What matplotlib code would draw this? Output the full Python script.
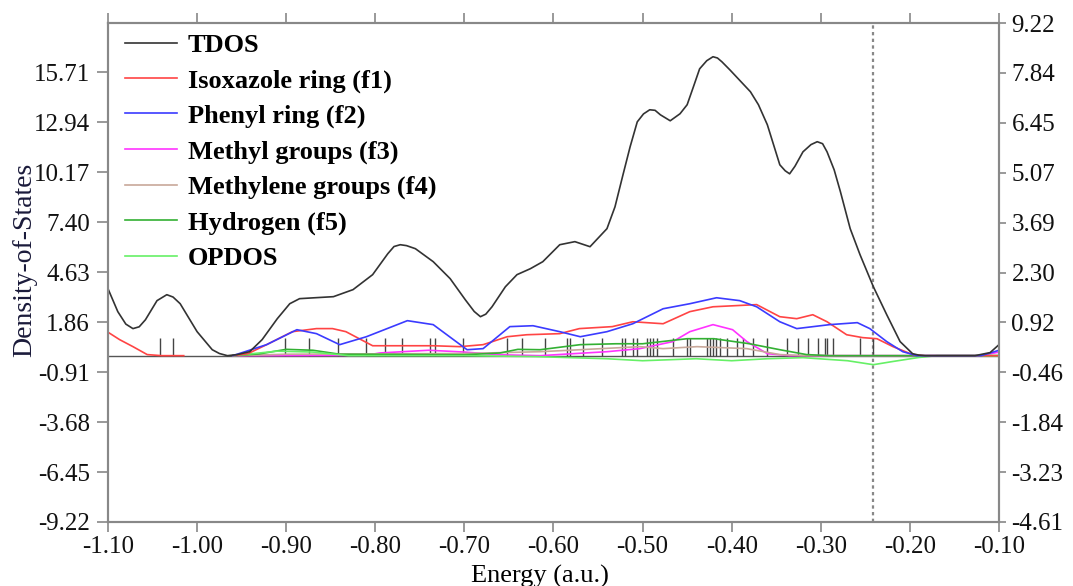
import numpy as np
import matplotlib.pyplot as plt

nan = np.nan

# total density of states
tdos_x = [-1.100, -1.089, -1.080, -1.072, -1.065, -1.058, -1.045, -1.034, -1.027, -1.019,
          -1.000, -0.983, -0.975, -0.966, -0.955, -0.941, -0.927, -0.910, -0.896, -0.885,
          -0.868, -0.847, -0.825, -0.803, -0.786, -0.779, -0.772, -0.765, -0.755, -0.735,
          -0.716, -0.699, -0.689, -0.682, -0.676, -0.669, -0.654, -0.641, -0.626, -0.612,
          -0.593, -0.576, -0.559, -0.540, -0.531, -0.522, -0.514, -0.506, -0.499, -0.492,
          -0.486, -0.480, -0.469, -0.458, -0.450, -0.443, -0.436, -0.428, -0.421, -0.416,
          -0.411, -0.402, -0.379, -0.370, -0.360, -0.346, -0.340, -0.335, -0.329, -0.320,
          -0.311, -0.304, -0.298, -0.293, -0.285, -0.278, -0.267, -0.256, -0.241, -0.226,
          -0.211, -0.197, -0.190, -0.183, -0.127, -0.110, -0.100]
tdos_y = [3.71, 2.44, 1.75, 1.50, 1.60, 1.99, 3.05, 3.38, 3.25, 2.88,
          1.33, 0.33, 0.12, 0.00, 0.06, 0.22, 0.89, 2.05, 2.88, 3.16,
          3.21, 3.27, 3.66, 4.49, 5.65, 6.05, 6.15, 6.10, 5.93, 5.21,
          4.27, 3.10, 2.45, 2.16, 2.30, 2.71, 3.82, 4.49, 4.82, 5.21,
          6.15, 6.32, 6.04, 7.04, 8.25, 10.03, 11.58, 12.96, 13.40, 13.63,
          13.60, 13.35, 13.02, 13.41, 13.91, 14.90, 15.90, 16.35, 16.57, 16.50,
          16.29, 15.84, 14.63, 13.91, 12.80, 10.58, 10.25, 10.08, 10.50, 11.30,
          11.70, 11.86, 11.75, 11.30, 10.30, 9.09, 7.04, 5.60, 3.82, 2.27,
          0.78, 0.11, 0.03, 0.00, 0.00, 0.17, 0.61]

# Isoxazole ring (f1)
f1_x = [-1.100, -1.087, -1.072, -1.056, -1.040, -1.015, nan,
        -0.960, -0.943, -0.922, -0.893, -0.866, -0.848, -0.833, -0.818, -0.803, -0.772,
        -0.735, -0.705, -0.679, -0.652, -0.630, -0.593, -0.571, -0.534, -0.511, -0.477,
        -0.447, -0.421, -0.372, -0.346, -0.327, -0.309, -0.293, -0.271, -0.253, -0.237,
        -0.219, -0.197, -0.183, -0.100]
f1_y = [1.30, 0.89, 0.50, 0.06, 0.00, 0.00, nan,
        0.00, 0.11, 0.61, 1.33, 1.50, 1.50, 1.33, 0.94, 0.55, 0.55,
        0.55, 0.50, 0.61, 1.05, 1.16, 1.22, 1.50, 1.61, 1.88, 1.77,
        2.44, 2.71, 2.83, 2.16, 2.05, 2.27, 1.88, 1.16, 1.00, 0.94,
        0.50, 0.06, 0.00, 0.00]

# Phenyl ring (f2)
f2_x = [-0.960, -0.922, -0.888, -0.866, -0.840, -0.810, -0.764, -0.735, -0.697, -0.679,
        -0.649, -0.623, -0.593, -0.570, -0.540, -0.511, -0.477, -0.447, -0.417, -0.391,
        -0.372, -0.346, -0.327, -0.290, -0.259, -0.245, -0.226, -0.208, -0.192, -0.120,
        -0.100]
f2_y = [0.00, 0.61, 1.44, 1.22, 0.61, 1.05, 1.94, 1.72, 0.33, 0.39,
        1.61, 1.66, 1.33, 1.05, 1.33, 1.77, 2.60, 2.88, 3.21, 3.05,
        2.71, 1.88, 1.50, 1.72, 1.83, 1.50, 0.78, 0.22, 0.00, 0.00,
        0.30]

# Methyl groups (f3)
f3_x = [-0.960, -0.810, -0.795, -0.740, -0.700, -0.660, -0.615, -0.578, -0.540, -0.503,
        -0.466, -0.447, -0.421, -0.399, -0.383, -0.360, -0.335, -0.120, -0.100]
f3_y = [0.00, 0.02, 0.15, 0.30, 0.20, 0.05, 0.00, 0.11, 0.22, 0.39,
        0.78, 1.33, 1.72, 1.44, 0.78, 0.11, 0.00, 0.00, 0.20]

# Methylene groups (f4)
f4_x = [-0.960, -0.900, -0.800, -0.700, -0.615, -0.570, -0.503, -0.477, -0.439, -0.383,
        -0.346, -0.316, -0.100]
f4_y = [0.00, 0.08, 0.10, 0.12, 0.22, 0.33, 0.50, 0.39, 0.50, 0.39,
        0.06, 0.00, 0.00]

# Hydrogen (f5)
f5_x = [-0.960, -0.930, -0.900, -0.870, -0.840, -0.700, -0.660, -0.640, -0.615, -0.570,
        -0.530, -0.500, -0.450, -0.420, -0.380, -0.346, -0.316, -0.290, -0.100]
f5_y = [0.00, 0.10, 0.35, 0.30, 0.08, 0.05, 0.15, 0.35, 0.33, 0.61,
        0.66, 0.66, 0.94, 0.94, 0.66, 0.33, 0.06, 0.00, 0.00]

# overlap population DOS
op_x = [-0.960, -0.910, -0.870, -0.830, -0.700, -0.620, -0.540, -0.500, -0.440, -0.400,
        -0.360, -0.320, -0.270, -0.241, -0.220, -0.190, -0.170, -0.100]
op_y = [0.00, 0.25, 0.20, 0.00, 0.00, -0.05, -0.17, -0.28, -0.17, -0.28,
        -0.17, -0.11, -0.28, -0.50, -0.33, -0.10, 0.00, 0.00]

# discrete orbital energies (sticks)
levels = [-1.042, -1.027, -0.901, -0.874, -0.842, -0.810, -0.789, -0.770, -0.739, -0.733,
          -0.702, -0.652, -0.635, -0.610, -0.585, -0.581, -0.567, -0.546, -0.523, -0.520,
          -0.511, -0.506, -0.495, -0.492, -0.488, -0.484, -0.466, -0.450, -0.447, -0.428,
          -0.424, -0.421, -0.418, -0.413, -0.405, -0.394, -0.387, -0.376, -0.360, -0.338,
          -0.326, -0.314, -0.303, -0.295, -0.293, -0.286, -0.256, -0.241]
homo = -0.241

xticks = [-1.10, -1.00, -0.90, -0.80, -0.70, -0.60, -0.50, -0.40, -0.30, -0.20, -0.10]
left_ticks = [-9.22, -6.45, -3.68, -0.91, 1.86, 4.63, 7.40, 10.17, 12.94, 15.71]
right_ticks = [-4.61, -3.23, -1.84, -0.46, 0.92, 2.30, 3.69, 5.07, 6.45, 7.84, 9.22]

plt.rcParams['font.family'] = ['Liberation Serif', 'DejaVu Serif']

fig = plt.figure(figsize=(10.73, 5.86), dpi=100)
ax = fig.add_axes([108 / 1073, 64 / 586, 891 / 1073, 499 / 586])

ax.vlines(levels, 0, 1.0, color='#444444', lw=1.0, zorder=2)
ax.axhline(0, color='#555555', lw=1.0, zorder=1)
ax.axvline(homo, color='#888888', lw=1.6, ls=(0, (1.5, 1.5)), zorder=1)

ax.plot(tdos_x, tdos_y, color='#333333', lw=1.2, label='TDOS', zorder=5)
ax.plot(f1_x, f1_y, color='#ff4444', lw=1.2, label='Isoxazole ring (f1)', zorder=4)
ax.plot(f2_x, f2_y, color='#3b3bff', lw=1.2, label='Phenyl ring (f2)', zorder=4)
ax.plot(f3_x, f3_y, color='#ff33ff', lw=1.2, label='Methyl groups (f3)', zorder=3)
ax.plot(f4_x, f4_y, color='#c8a89a', lw=1.2, label='Methylene groups (f4)', zorder=3)
ax.plot(f5_x, f5_y, color='#33b033', lw=1.2, label='Hydrogen (f5)', zorder=3)
ax.plot(op_x, op_y, color='#66f066', lw=1.2, label='OPDOS', zorder=3)

ax.set_xlim(-1.10, -0.10)
ax.set_ylim(-9.22, 18.44)
ax.set_xticks(xticks)
ax.set_xticklabels(['%.2f' % v for v in xticks])
ax.set_yticks(left_ticks)
ax.set_yticklabels(['%.2f' % v for v in left_ticks])
ax.tick_params(axis='both', direction='out', width=1.2, color='#888888',
               labelsize=18, labelcolor='#111111', top=True)
ax.tick_params(axis='x', length=7, pad=3)
ax.tick_params(axis='y', length=8, pad=5)

ax2 = ax.twinx()
ax2.set_ylim(-4.61, 9.22)
ax2.set_yticks(right_ticks)
ax2.set_yticklabels(['%.2f' % v for v in right_ticks])
ax2.tick_params(axis='y', direction='out', length=5, width=1.2, color='#888888',
                labelsize=18, labelcolor='#111111', pad=4)

for a in (ax, ax2):
    for s in a.spines.values():
        s.set_color('#888888')
        s.set_linewidth(1.5)

ax.set_xlabel('Energy (a.u.)', fontsize=19)
ax.xaxis.set_label_coords(0.485, -0.085)
ax.set_ylabel('Density-of-States', fontsize=20, color='#1a1a3a')
ax.yaxis.set_label_coords(-0.079, 0.525)

ax.legend(loc='upper left', bbox_to_anchor=(0.0, 1.013), frameon=False,
          prop={'weight': 'bold', 'size': 19}, handlelength=1.95, handletextpad=0.42,
          labelspacing=0.44, borderpad=0.4, borderaxespad=0.25)

plt.savefig('out.png', dpi=100)
